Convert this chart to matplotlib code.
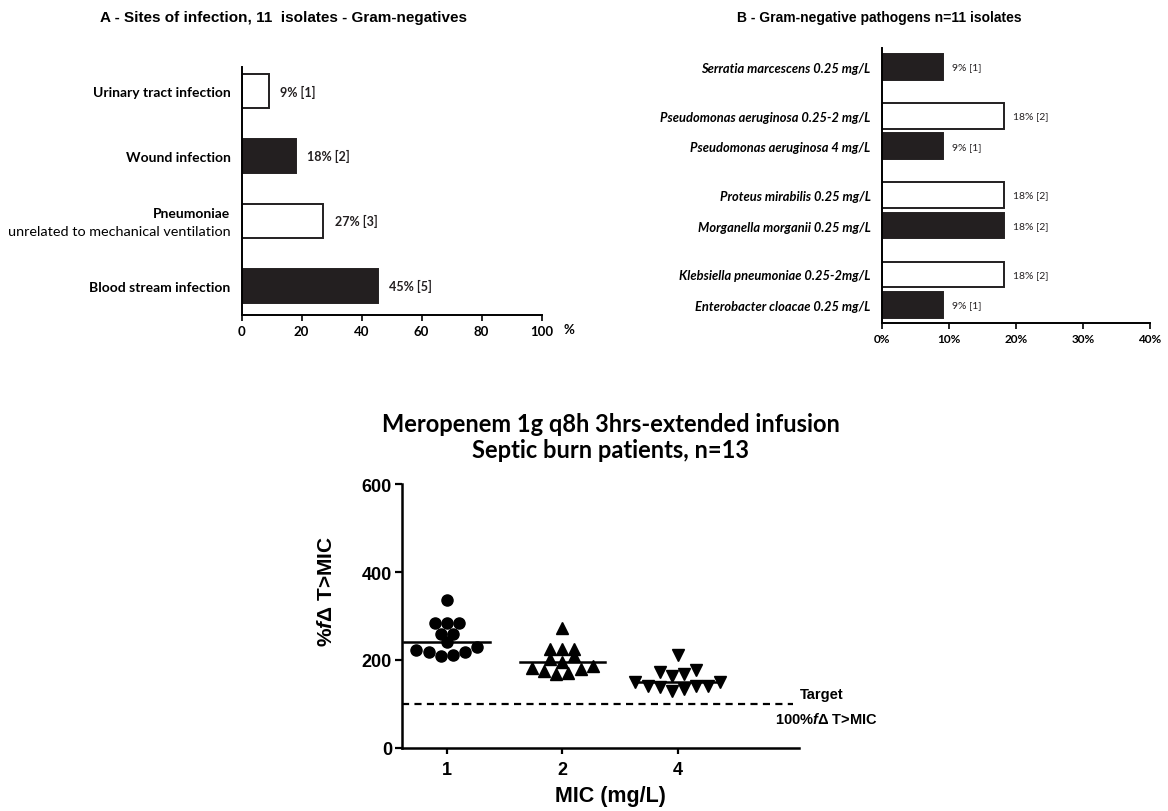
import numpy as np
import matplotlib
matplotlib.use('Agg')
import matplotlib.pyplot as plt

plt.rcParams['font.family'] = ['Lato', 'DejaVu Sans']
plt.rcParams['mathtext.fontset'] = 'custom'
plt.rcParams['mathtext.it'] = 'Liberation Sans:italic:bold'
plt.rcParams['mathtext.rm'] = 'Liberation Sans:bold'

DARK = '#231f20'
ARIAL = 'Liberation Sans'

# --- Panel A: sites of infection (bottom to top)
sites = ['Blood stream infection', 'Pneumoniae', 'Wound infection', 'Urinary tract infection']
site_counts = [5, 3, 2, 1]
site_fill = [DARK, 'white', DARK, 'white']
n_isolates = 11

# --- Panel B: pathogens (bottom to top), grouped in pairs
pathogens = ['Enterobacter cloacae 0.25 mg/L', 'Klebsiella pneumoniae 0.25-2mg/L',
             'Morganella morganii 0.25 mg/L', 'Proteus mirabilis 0.25 mg/L',
             'Pseudomonas aeruginosa 4 mg/L', 'Pseudomonas aeruginosa 0.25-2 mg/L',
             'Serratia marcescens 0.25 mg/L']
pathogen_counts = [1, 2, 2, 2, 1, 2, 1]
pathogen_group = [0, 0, 1, 1, 2, 2, 3]
pathogen_fill = [DARK, 'white', DARK, 'white', DARK, 'white', DARK]

# --- Panel C: %fT>MIC per MIC
mic_labels = ['1', '2', '4']
ft_mic1 = [336, 285, 285, 285, 260, 260, 242, 223, 219, 208, 211, 219, 230]
ft_mic2 = [272, 226, 226, 226, 208, 196, 202, 181, 176, 168, 170, 180, 186]
ft_mic4 = [211, 178, 168, 163, 172, 151, 140, 138, 130, 134, 140, 142, 151]
target = 100


def swarm_offsets(vals, row_h=25, step=0.105):
    # prism-like: bin values in rows, spread each row symmetric, lowest in middle
    vals = np.asarray(vals, float)
    rows = np.floor((vals - vals.min()) / row_h).astype(int)
    offs = np.zeros(len(vals))
    for r in np.unique(rows):
        idx = [i for i in np.argsort(vals, kind='stable') if rows[i] == r]
        n = len(idx)
        slots = sorted(np.arange(n) - (n - 1) / 2, key=lambda s: (abs(s), s))
        for i, s in zip(idx, slots):
            offs[i] = s * step
    return offs


fig = plt.figure(figsize=(11.68, 8.12), dpi=100)

# ---------------- Panel A
axA = fig.add_axes([0.2069, 0.6108, 0.2568, 0.3054])
posA = np.arange(len(sites))
pctA = np.array(site_counts) / n_isolates * 100
axA.barh(posA, pctA, height=0.52, color=site_fill, edgecolor=DARK, linewidth=1.4)
for p, v, n in zip(posA, pctA, site_counts):
    axA.annotate(f'{round(v)}% [{n}]', xy=(v, p), xytext=(8, 0), textcoords='offset points',
                 ha='left', va='center', fontsize=9, fontweight='bold', color=DARK)
axA.set_xlim(0, 100)
axA.set_ylim(-0.45, 3.37)
axA.set_xticks(range(0, 101, 20))
axA.set_yticks(posA)
axA.set_yticklabels(['' if s == 'Pneumoniae' else s for s in sites], fontsize=10, fontweight='bold')
p_pn = sites.index('Pneumoniae')
axA.annotate('Pneumoniae', xy=(0, p_pn), xycoords=('axes fraction', 'data'), xytext=(-8, 6),
             textcoords='offset points', ha='right', va='center', fontsize=10, fontweight='bold')
axA.annotate('unrelated to mechanical ventilation', xy=(0, p_pn), xycoords=('axes fraction', 'data'),
             xytext=(-8, -7), textcoords='offset points', ha='right', va='center', fontsize=10.4)
axA.tick_params(axis='y', length=0, pad=8)
axA.tick_params(axis='x', length=4, width=1.2, labelsize=9.5)
for t in axA.get_xticklabels():
    t.set_fontweight('bold')
axA.text(1.09, -0.055, '%', transform=axA.transAxes, ha='center', va='center', fontsize=9.5, fontweight='bold')
for s in ['top', 'right']:
    axA.spines[s].set_visible(False)
for s in ['left', 'bottom']:
    axA.spines[s].set_linewidth(1.4)
fig.text(0.2423, 0.978, 'A - Sites of infection, 11  isolates - Gram-negatives', family=ARIAL,
         fontsize=11, fontweight='bold', ha='center', va='center')

# ---------------- Panel B
axB = fig.add_axes([0.7549, 0.601, 0.2297, 0.3387])
posB = np.array(pathogen_group) * 2.6 + (np.arange(len(pathogens)) % 2)
pctB = np.array(pathogen_counts) / n_isolates * 100
axB.barh(posB, pctB, height=0.84, color=pathogen_fill, edgecolor=DARK, linewidth=1.4)
for p, v, n in zip(posB, pctB, pathogen_counts):
    axB.annotate(f'{round(v)}% [{n}]', xy=(v, p), xytext=(7, 0), textcoords='offset points',
                 ha='left', va='center', fontsize=7.5, color=DARK)
axB.set_xlim(0, 40)
axB.set_ylim(-0.59, 8.42)
axB.set_xticks(range(0, 41, 10))
axB.set_xticklabels([f'{x}%' for x in range(0, 41, 10)], fontsize=8.5, fontweight='bold')
axB.set_yticks(posB)
axB.set_yticklabels(pathogens, fontsize=9.3, fontweight='bold', style='italic')
axB.tick_params(axis='y', length=0, pad=8)
axB.tick_params(axis='x', length=4, width=1.2)
for s in ['top', 'right']:
    axB.spines[s].set_visible(False)
for s in ['left', 'bottom']:
    axB.spines[s].set_linewidth(1.4)
fig.text(0.7526, 0.978, 'B - Gram-negative pathogens n=11 isolates', family=ARIAL,
         fontsize=10, fontweight='bold', ha='center', va='center')

# ---------------- Panel C
axC = fig.add_axes([0.3439, 0.0776, 0.3404, 0.3251])
markers = ['o', '^', 'v']
msizes = [8, 9, 8.5]
for k, vals in enumerate([ft_mic1, ft_mic2, ft_mic4]):
    xs = k + swarm_offsets(vals)
    axC.plot(xs, vals, linestyle='none', marker=markers[k], markersize=msizes[k],
             color='black', clip_on=False, zorder=3)
    med = np.median(vals)
    axC.plot([k - 0.37, k + 0.37], [med, med], color='black', linewidth=1.8, zorder=4)
axC.plot([-0.39, 3.0], [target, target], color='black', linewidth=1.6,
         linestyle=(0, (3.2, 2.4)), clip_on=False)
axC.text(3.056, 123, 'Target', family=ARIAL, fontsize=10.5, fontweight='bold', ha='left', va='center')
axC.text(2.84, 66, '100%$\\it{f}$$\\Delta$ T>MIC', family=ARIAL, fontsize=10.5, fontweight='bold',
         ha='left', va='center')
axC.set_xlim(-0.39, 3.05)
axC.set_ylim(0, 600)
axC.set_xticks(range(3))
axC.set_xticklabels(mic_labels)
axC.set_yticks([0, 200, 400, 600])
for t in axC.get_xticklabels() + axC.get_yticklabels():
    t.set_fontweight('bold')
    t.set_fontfamily(ARIAL)
    t.set_fontsize(13)
axC.tick_params(axis='y', length=5, width=1.6, pad=2)
axC.tick_params(axis='x', length=4.5, width=1.6, pad=5)
for s in ['top', 'right']:
    axC.spines[s].set_visible(False)
for s in ['left', 'bottom']:
    axC.spines[s].set_linewidth(1.8)
axC.set_xlabel('MIC (mg/L)', family=ARIAL, fontsize=15.5, fontweight='bold')
axC.xaxis.set_label_coords(0.526, -0.14)
axC.set_ylabel('%$\\it{f}$$\\Delta$ T>MIC', family=ARIAL, fontsize=15, fontweight='bold')
axC.yaxis.set_label_coords(-0.165, 0.598)
fig.text(0.523, 0.4612, 'Meropenem 1g q8h 3hrs-extended infusion\nSeptic burn patients, n=13',
         fontsize=17, fontweight='bold', ha='center', va='center', linespacing=1.2)

fig.savefig('out.png', dpi=100)
